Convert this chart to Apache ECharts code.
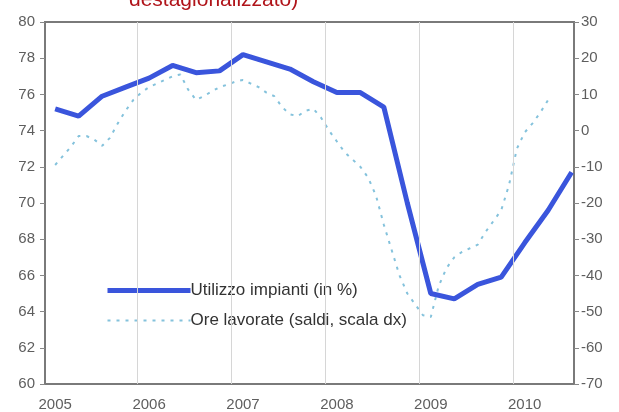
<!DOCTYPE html>
<html>
<head>
<meta charset="utf-8">
<script src="https://cdn.jsdelivr.net/npm/echarts@6/dist/echarts.min.js"></script>
<style>html,body{margin:0;padding:0;background:#fff;}#c{width:619px;height:412px;}</style>
</head>
<body>
<div id="c"></div>
<script>
// Year tick labels (placed at January of each year, month index 0,12,...)
const yearLabels = ['2005', '2006', '2007', '2008', '2009', '2010'];
// Utilizzo impianti (in %), quarterly from 2005 Q1 to 2010 Q3
const utilizzo = [75.2, 74.8, 75.9, 76.4, 76.9, 77.6, 77.2, 77.3, 78.2, 77.8, 77.4, 76.7,
  76.1, 76.1, 75.3, 70.0, 65.0, 64.7, 65.5, 65.9, 67.8, 69.6, 71.7];
// Ore lavorate (saldi, scala dx), monthly from Jan 2005 to Apr 2010
const oreLavorate = [-9.5, -7, -4.5, -1.5, -1.5, -2.5, -4.2, -2, 2, 5.5, 8.5, 10.5,
  12, 13, 14, 15, 15.5, 11.3, 8.5, 9.5, 10.8, 12, 12.7, 13.5,
  14, 13, 12, 10.5, 9.5, 6.5, 4.5, 4, 5.5, 6, 3.5, 0,
  -3, -6, -8, -10, -13, -18, -26, -33, -40, -45, -48, -51,
  -51.5, -43, -38, -35, -33.5, -32.5, -31.5, -28, -25, -22, -15, -5,
  -0.5, 2, 5, 8.5];
const seriesNames = ['Utilizzo impianti (in %)', 'Ore lavorate (saldi, scala dx)'];
const titleText = 'destagionalizzato)';

const utilData = utilizzo.map((v, i) => [i * 3, v]);
const oreData = oreLavorate.map((v, i) => [i, v]);
const yearTicks = yearLabels.map((y, i) => i * 12);
const yearBounds = yearLabels.slice(0, 5).map((y, i) => ({ xAxis: i * 12 + 10.5 }));

const FONT = 'Liberation Sans, Arial, sans-serif';
const BLUE = '#3a55dc';
const DOT = '#84c2dc';
const LABEL = '#5e5e5e';

const chart = echarts.init(document.getElementById('c'));
chart.setOption({
  animation: false,
  backgroundColor: '#fff',
  title: {
    text: titleText, left: 129, top: -10, padding: 0,
    textStyle: { color: '#b0141a', fontSize: 21, fontWeight: 'normal', fontFamily: FONT }
  },
  grid: { left: 45, right: 45, top: 22, bottom: 27, show: true, borderColor: '#7a7a7a', borderWidth: 2, backgroundColor: '#fff' },
  legend: {
    orient: 'vertical', left: 100, top: 277, itemWidth: 83, itemHeight: 12, itemGap: 13,
    itemStyle: { opacity: 0 },
    data: [
      { name: seriesNames[0], lineStyle: { width: 5, color: BLUE } },
      { name: seriesNames[1], lineStyle: { width: 2, color: DOT, type: [3, 6] } }
    ],
    textStyle: { fontSize: 17, color: '#333', fontFamily: FONT, padding: [0, 0, 0, -5] }
  },
  xAxis: {
    type: 'value', min: -1.3, max: 66.3,
    axisLine: { show: false },
    axisTick: { show: false },
    splitLine: { show: false },
    axisLabel: {
      customValues: yearTicks,
      formatter: v => yearLabels[Math.round(v / 12)] || '',
      color: LABEL, fontSize: 15, margin: 13, fontFamily: FONT
    }
  },
  yAxis: [
    {
      type: 'value', min: 60, max: 80, interval: 2, position: 'left',
      axisLine: { show: true, onZero: false, lineStyle: { color: '#7a7a7a', width: 2 } },
      axisTick: { show: true, inside: false, length: 5, lineStyle: { color: '#888' } },
      splitLine: { show: false },
      axisLabel: { color: LABEL, fontSize: 15, margin: 10, fontFamily: FONT }
    },
    {
      type: 'value', min: -70, max: 30, interval: 10, position: 'right',
      axisLine: { show: true, onZero: false, lineStyle: { color: '#7a7a7a', width: 2 } },
      axisTick: { show: true, inside: false, length: 5, lineStyle: { color: '#888' } },
      splitLine: { show: false },
      axisLabel: { color: LABEL, fontSize: 15, margin: 7, fontFamily: FONT }
    }
  ],
  series: [
    {
      name: seriesNames[1], type: 'line', yAxisIndex: 1, data: oreData,
      symbol: 'none', z: 2,
      lineStyle: { color: DOT, width: 2, type: [3, 6] },
      itemStyle: { color: DOT },
      markLine: {
        silent: true, symbol: 'none', label: { show: false },
        lineStyle: { color: '#d6d6d6', width: 1, type: 'solid' },
        data: yearBounds
      }
    },
    {
      name: seriesNames[0], type: 'line', yAxisIndex: 0, data: utilData,
      symbol: 'none', z: 3,
      lineStyle: { color: BLUE, width: 5 },
      itemStyle: { color: BLUE }
    }
  ]
});
</script>
</body>
</html>
